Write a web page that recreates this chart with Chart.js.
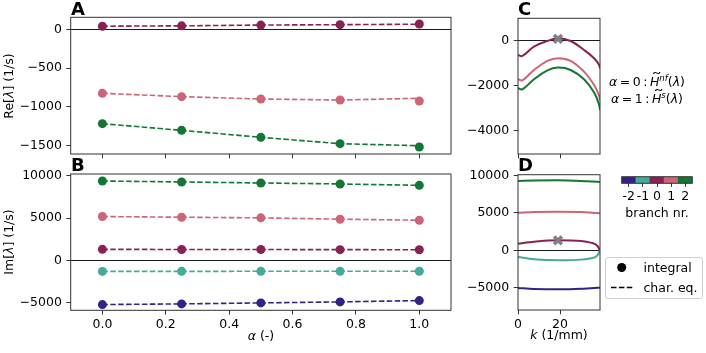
<!DOCTYPE html>
<html>
<head>
<meta charset="utf-8">
<script src="https://cdn.jsdelivr.net/npm/chart.js@4.4.1/dist/chart.umd.min.js"></script>
<style>
  body { margin: 0; width: 706px; height: 353px; position: relative; overflow: hidden; background: #fff;
         font-family: "DejaVu Sans", sans-serif; color: #000; }
  canvas.layer { position: absolute; left: 0; top: 0; }
  .t { position: absolute; white-space: nowrap; font-size: 12.5px; line-height: 1; z-index: 5; }
  .c { transform: translate(-50%, -50%); }
  .rot { transform: translate(-50%, -50%) rotate(-90deg); }
  .letter { font-weight: bold; font-size: 18px; }
  .legend { position: absolute; left: 604.5px; top: 257.3px; width: 96.5px; height: 39.5px;
            border: 1px solid #d0d0d0; border-radius: 3px; background: rgba(255,255,255,.8); z-index: 4; }
  sup { font-size: 8.5px; font-style: italic; vertical-align: 5px; }
  .wt { position: relative; display: inline-block; }
  .wt::after { content: "\02DC"; position: absolute; left: 1.5px; top: -4px; font-style: normal;
               font-size: 12px; transform: scaleX(1.9); transform-origin: left; }
</style>
</head>
<body>
<canvas class="layer" id="cA" width="706" height="353"></canvas>
<canvas class="layer" id="cB" width="706" height="353"></canvas>
<canvas class="layer" id="cC" width="706" height="353"></canvas>
<canvas class="layer" id="cD" width="706" height="353"></canvas>
<canvas class="layer" id="cBar" width="706" height="353"></canvas>

<div class="t letter" style="left:71px;top:0px">A</div>
<div class="t letter" style="left:71px;top:155.5px">B</div>
<div class="t letter" style="left:518px;top:0px">C</div>
<div class="t letter" style="left:518px;top:155.5px">D</div>

<div class="t rot" style="left:9px;top:85.7px">Re[<i>λ</i>] (1/s)</div>
<div class="t rot" style="left:9px;top:242px">Im[<i>λ</i>] (1/s)</div>
<div class="t c" style="left:261px;top:336px"><i>α</i> (-)</div>
<div class="t c" style="left:559px;top:335px"><i>k</i> (1/mm)</div>
<div class="t c" style="left:657px;top:213px">branch nr.</div>

<div class="t c" style="left:647px;top:81px"><i>α</i>&#8201;=&#8201;0&#8201;:&#8201;<i class="wt">H</i><sup>nf</sup>(<i>λ</i>)</div>
<div class="t c" style="left:647px;top:97.7px"><i>α</i>&#8201;=&#8201;1&#8201;:&#8201;<i class="wt">H</i><sup>s</sup>(<i>λ</i>)</div>

<div class="legend">
  <svg width="96" height="39" style="position:absolute;left:0;top:0">
    <circle cx="15.7" cy="9.5" r="4.5" fill="#000"/>
    <line x1="5" y1="29.5" x2="27" y2="29.5" stroke="#000" stroke-width="1.5" stroke-dasharray="5.5 2.4"/>
  </svg>
  <div class="t" style="left:38px;top:3.5px">integral</div>
  <div class="t" style="left:38px;top:23.5px">char. eq.</div>
</div>

<script>
// ---- data --------------------------------------------------------------
const ALPHA = [0, 0.25, 0.5, 0.75, 1.0];
const ALPHA_TICKS = [0, 0.2, 0.4, 0.6, 0.8, 1.0];
const BRANCHES = ["-2", "-1", "0", "1", "2"];
const BRANCH_COLORS = ["#332288", "#44AA99", "#882255", "#CC6677", "#117733"];

// A: Re[lambda], branches 0, 1, 2 (integral dots / char. eq. dashed)
const RE_INT_0 = [40, 45, 55, 60, 68];
const RE_INT_1 = [-825, -868, -898, -911, -924];
const RE_INT_2 = [-1216, -1302, -1392, -1474, -1517];
const RE_CHAR_0 = [40, 45, 55, 60, 66];
const RE_CHAR_1 = [-825, -868, -898, -911, -889];
const RE_CHAR_2 = [-1216, -1302, -1392, -1474, -1500];
const RE_TICKS = [-1500, -1000, -500, 0];

// B: Im[lambda], branches -2..2
const IM_M2 = [-5216, -5137, -5020, -4902, -4745];
const IM_M1 = [-1300, -1295, -1290, -1290, -1285];
const IM_0 = [1300, 1290, 1280, 1270, 1255];
const IM_1 = [5176, 5098, 5020, 4863, 4745];
const IM_2 = [9376, 9259, 9141, 9024, 8859];
const IM_TICKS = [-5000, 0, 5000, 10000];

// C: Re of the characteristic function along k, branches 0, 1, 2
const K_C = [0, 2.1, 7.6, 14, 19, 25, 31.4, 36.2, 38.6, 39];
const C_RE_0 = [-649, -693, -281, -31, 87, -31, -428, -795, -1090, -1250];
const C_RE_1 = [-1723, -1767, -1311, -905, -788, -905, -1384, -1972, -2450, -2635];
const C_RE_2 = [-2119, -2163, -1723, -1325, -1207, -1311, -1723, -2310, -2850, -3078];
const C_TICKS = [-4000, -2000, 0];

// D: Im along k, branches -2..2
const K_D = [0, 7.6, 19, 30, 34.6, 37.8, 39];
const D_IM_M2 = [-5054, -5180, -5233, -5160, -5080, -5030, -5010];
const D_IM_M1 = [-898, -1200, -1345, -1250, -1072, -675, 0];
const D_IM_0 = [889, 1150, 1340, 1250, 1023, 577, 0];
const D_IM_1 = [5045, 5130, 5179, 5120, 5050, 4990, 4956];
const D_IM_2 = [9290, 9350, 9380, 9300, 9230, 9180, 9156];
const D_TICKS = [-5000, 0, 5000, 10000];
const K_TICKS = [0, 20];

// marked solution (grey cross)
const MARK_K = 19;
const MARK_RE = 60;
const MARK_IM = 1340;

// ---- helpers ------------------------------------------------------------
Chart.defaults.font.family = "DejaVu Sans";
Chart.defaults.font.size = 12.5;
Chart.defaults.color = "#000";

const minus = (v) => (v < 0 ? "\u2212" + Math.abs(v) : String(v));
const pts = (xs, ys) => xs.map((x, i) => ({ x, y: ys[i] }));
const setTicks = (vals) => (s) => { s.ticks = vals.map(v => ({ value: v })); };

const boxPlugin = {
  id: "box",
  afterDraw(chart) {
    const { ctx, chartArea: a } = chart;
    ctx.save();
    ctx.strokeStyle = "#333";
    ctx.lineWidth = 1;
    ctx.strokeRect(a.left, a.top, a.right - a.left, a.bottom - a.top);
    ctx.restore();
  },
};

const dots = (data, color) => ({
  data, showLine: false, pointRadius: 4.5, pointBackgroundColor: color,
  pointBorderColor: color, pointBorderWidth: 0, order: 0,
});
const dashed = (data, color) => ({
  data, showLine: true, pointRadius: 0, borderColor: color, borderWidth: 1.6,
  borderDash: [5.5, 2.4], order: 1,
});
// smooth curve; "monotone" where the branch pair closes at k max (panel D)
const curve = (data, color, mono) => ({
  data, showLine: true, pointRadius: 0, borderColor: color, borderWidth: 2,
  tension: 0.4, cubicInterpolationMode: mono ? "monotone" : "default", order: 1,
});
const cross = (data) => ({
  data, showLine: false, pointStyle: "crossRot", pointRadius: 5.5,
  borderColor: "#808080", pointBorderColor: "#808080", pointBorderWidth: 3.6, order: 0,
});

// area: {left, top, right, bottom} of the plot box in page pixels
function panel(id, area, datasets, o) {
  const yW = 50, xH = o.xLabels ? 24 : 8;
  return new Chart(document.getElementById(id), {
    type: "scatter",
    data: { datasets },
    plugins: [boxPlugin],
    options: {
      responsive: false, animation: false, events: [],
      layout: { padding: {
        left: area.left - yW, top: area.top,
        right: 706 - area.right, bottom: 353 - area.bottom - xH,
      } },
      plugins: { legend: { display: false }, tooltip: { enabled: false } },
      scales: {
        x: {
          type: "linear", min: o.xMin, max: o.xMax,
          afterBuildTicks: setTicks(o.xTicks),
          afterFit: (s) => { s.height = xH; },
          border: { display: false },
          grid: { color: "rgba(0,0,0,0)", tickColor: "#333", tickLength: 4.3, tickWidth: 1 },
          ticks: { display: !!o.xLabels, padding: 2.5, callback: o.xFmt || minus, maxRotation: 0 },
        },
        y: {
          type: "linear", min: o.yMin, max: o.yMax,
          afterBuildTicks: setTicks(o.yTicks),
          afterFit: (s) => { s.width = yW; },
          border: { display: false },
          grid: {
            color: (c) => (c.tick && c.tick.value === 0 ? "#000" : "rgba(0,0,0,0)"),
            lineWidth: 0.9, tickColor: "#333", tickLength: 4.3, tickWidth: 1,
          },
          ticks: { padding: 4.5, callback: minus },
        },
      },
    },
  });
}

// ---- A ----
panel("cA", { left: 70.7, top: 17.3, right: 451, bottom: 154 }, [
  dots(pts(ALPHA, RE_INT_0), BRANCH_COLORS[2]),
  dots(pts(ALPHA, RE_INT_1), BRANCH_COLORS[3]),
  dots(pts(ALPHA, RE_INT_2), BRANCH_COLORS[4]),
  dashed(pts(ALPHA, RE_CHAR_0), BRANCH_COLORS[2]),
  dashed(pts(ALPHA, RE_CHAR_1), BRANCH_COLORS[3]),
  dashed(pts(ALPHA, RE_CHAR_2), BRANCH_COLORS[4]),
], { xMin: -0.1, xMax: 1.1, xTicks: ALPHA_TICKS, yMin: -1607, yMax: 155, yTicks: RE_TICKS });

// ---- B ----
const IM_SERIES = [IM_M2, IM_M1, IM_0, IM_1, IM_2];
panel("cB", { left: 70.7, top: 174, right: 451, bottom: 310.3 }, [
  ...IM_SERIES.map((s, i) => dots(pts(ALPHA, s), BRANCH_COLORS[i])),
  ...IM_SERIES.map((s, i) => dashed(pts(ALPHA, s), BRANCH_COLORS[i])),
], { xMin: -0.1, xMax: 1.1, xTicks: ALPHA_TICKS, xLabels: true, xFmt: (v) => v.toFixed(1),
     yMin: -5894, yMax: 10200, yTicks: IM_TICKS });

// ---- C ----
panel("cC", { left: 518, top: 18.3, right: 600, bottom: 154 }, [
  cross([{ x: MARK_K, y: MARK_RE }]),
  curve(pts(K_C, C_RE_0), BRANCH_COLORS[2]),
  curve(pts(K_C, C_RE_1), BRANCH_COLORS[3]),
  curve(pts(K_C, C_RE_2), BRANCH_COLORS[4]),
], { xMin: 0, xMax: 39, xTicks: K_TICKS, yMin: -5020, yMax: 970, yTicks: C_TICKS });

// ---- D ----
const D_SERIES = [D_IM_M2, D_IM_M1, D_IM_0, D_IM_1, D_IM_2];
panel("cD", { left: 518, top: 174.7, right: 600, bottom: 310 }, [
  cross([{ x: MARK_K, y: MARK_IM }]),
  ...D_SERIES.map((s, i) => curve(pts(K_D, s), BRANCH_COLORS[i], true)),
], { xMin: 0, xMax: 39, xTicks: K_TICKS, xLabels: true, yMin: -8000, yMax: 10130, yTicks: D_TICKS });

// ---- colour bar (branch nr.) ----
new Chart(document.getElementById("cBar"), {
  type: "bar",
  data: { labels: BRANCHES, datasets: [{
    data: BRANCHES.map(() => 1), backgroundColor: BRANCH_COLORS,
    barPercentage: 1, categoryPercentage: 1, borderWidth: 0,
  }] },
  plugins: [boxPlugin],
  options: {
    responsive: false, animation: false, events: [],
    layout: { padding: { left: 621.7, top: 176.7, right: 706 - 692.3, bottom: 353 - 183.3 - 20 } },
    plugins: { legend: { display: false }, tooltip: { enabled: false } },
    scales: {
      x: {
        afterFit: (s) => { s.height = 20; },
        border: { display: false },
        grid: { offset: false, drawOnChartArea: false, tickColor: "#333", tickLength: 3.5 },
        ticks: { padding: 2, autoSkip: false, maxRotation: 0 },
      },
      y: { display: false, min: 0, max: 1 },
    },
  },
});
</script>
</body>
</html>
